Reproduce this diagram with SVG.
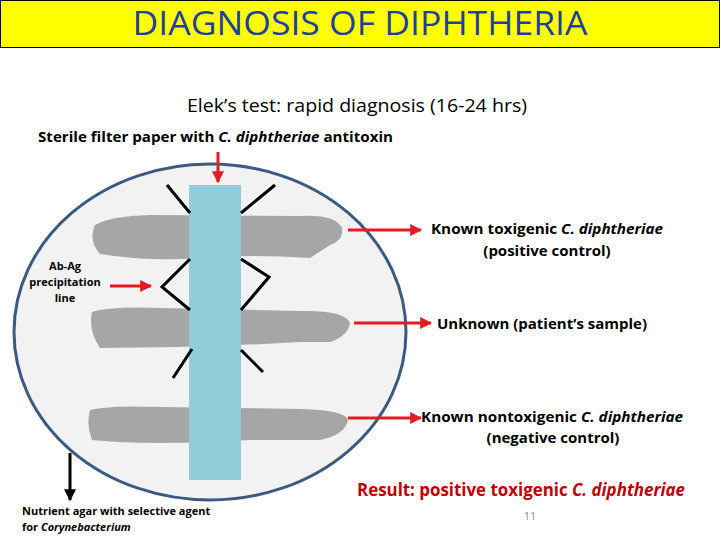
<svg xmlns="http://www.w3.org/2000/svg" width="720" height="540" viewBox="0 0 720 540">
<defs>
<marker id="ar" viewBox="0 0 10 10" refX="9" refY="5" markerWidth="4" markerHeight="4" orient="auto"><path d="M0,0 L10,5 L0,10 z" fill="#e31b23"/></marker>
<marker id="ab" viewBox="0 0 10 10" refX="9" refY="5" markerWidth="4" markerHeight="4" orient="auto"><path d="M0,0 L10,5 L0,10 z" fill="#000"/></marker>
</defs>
<style>
text{font-family:"Open Sans","Noto Sans","Liberation Sans",sans-serif}
.b{font-weight:bold;font-size:13px;fill:#000}
.r{font-weight:bold;font-size:17px;fill:#c00000}
.s{fill:#a6a6a6}
.k{stroke:#000;stroke-width:3;fill:none}
.ra{stroke:#e31b23;stroke-width:3;marker-end:url(#ar)}
</style>
<rect width="720" height="540" fill="#fff"/>
<g id="title"><rect x="0.5" y="0.5" width="719" height="47" fill="#ffff00" stroke="#000"/>
<text x="360" y="35" text-anchor="middle" font-size="32" fill="#1f3fa0" textLength="455" lengthAdjust="spacingAndGlyphs">DIAGNOSIS OF DIPHTHERIA</text></g>
<text x="357" y="112" text-anchor="middle" font-size="19" fill="#000" textLength="340" lengthAdjust="spacingAndGlyphs">Elek’s  test: rapid diagnosis (16-24 hrs)</text>
<text x="38" y="142" class="b" style="font-size:14.5px" textLength="355" lengthAdjust="spacingAndGlyphs">Sterile filter paper with <tspan font-style="italic">C. diphtheriae</tspan> antitoxin</text>
<g id="plate"><ellipse cx="210" cy="332" rx="196" ry="168" fill="#f2f2f2" stroke="#3a5a80" stroke-width="3"/></g>
<g id="streaks">
<path class="s" d="M95,225 Q110,216 150,215 L300,216 Q335,214 342,228 Q344,240 330,245 L310,258 Q250,254 200,258 Q150,262 100,254 Q88,240 95,225z"/>
<path class="s" d="M92,312 Q110,306 160,308 L300,311 Q345,310 350,323 Q348,336 330,342 L300,342 Q200,348 100,348 Q88,330 92,312z"/>
<path class="s" d="M90,410 Q110,405 160,407 L300,409 Q345,410 348,420 Q345,435 320,440 L250,440 Q150,446 92,440 Q86,425 90,410z"/>
</g>
<g id="strip"><rect x="189" y="185" width="52" height="295" fill="#92cddc"/></g>
<g id="lines">
<path class="k" d="M167,185 L190,213"/><path class="k" d="M241,213 L275,185"/>
<path class="k" d="M190,259 L162,287 L190,310"/><path class="k" d="M241,259 L269,277 L241,310"/>
<path class="k" d="M192,349 L173,378"/><path class="k" d="M241,350 L263,372"/>
</g>
<g id="connectors">
<line class="ra" x1="218" y1="152" x2="218" y2="182"/>
<line class="ra" x1="110" y1="286" x2="151" y2="286"/>
<line class="ra" x1="348" y1="230" x2="421" y2="230"/>
<line class="ra" x1="354" y1="323" x2="431" y2="323"/>
<line class="ra" x1="348" y1="418" x2="421" y2="418"/>
<line x1="70" y1="453" x2="70" y2="500" stroke="#000" stroke-width="3" marker-end="url(#ab)"/>
</g>
<g id="labels">
<text x="65" y="270" class="b" text-anchor="middle" style="font-size:11px">Ab-Ag</text>
<text x="65" y="286" class="b" text-anchor="middle" style="font-size:11px">precipitation</text>
<text x="65" y="302" class="b" text-anchor="middle" style="font-size:11px">line</text>
<text x="547" y="234" class="b" text-anchor="middle" style="font-size:15px" textLength="232" lengthAdjust="spacingAndGlyphs">Known toxigenic <tspan font-style="italic">C. diphtheriae</tspan></text>
<text x="547" y="256" class="b" text-anchor="middle" style="font-size:15px">(positive control)</text>
<text x="542" y="329" class="b" text-anchor="middle" style="font-size:15px" textLength="210" lengthAdjust="spacingAndGlyphs">Unknown (patient’s sample)</text>
<text x="552" y="422" class="b" text-anchor="middle" style="font-size:15px" textLength="262" lengthAdjust="spacingAndGlyphs">Known nontoxigenic <tspan font-style="italic">C. diphtheriae</tspan></text>
<text x="553" y="443" class="b" text-anchor="middle" style="font-size:15px">(negative control)</text>
<text x="521" y="496" class="r" text-anchor="middle" textLength="328" lengthAdjust="spacingAndGlyphs">Result: positive toxigenic <tspan font-style="italic">C. diphtheriae</tspan></text>
<text x="22" y="515" class="b" style="font-size:11px">Nutrient agar with selective agent</text>
<text x="22" y="531" class="b" style="font-size:11px">for <tspan font-style="italic">Corynebacterium</tspan></text>
<text x="530" y="520" text-anchor="middle" font-size="11" fill="#8c8c8c">11</text>
</g>
</svg>
